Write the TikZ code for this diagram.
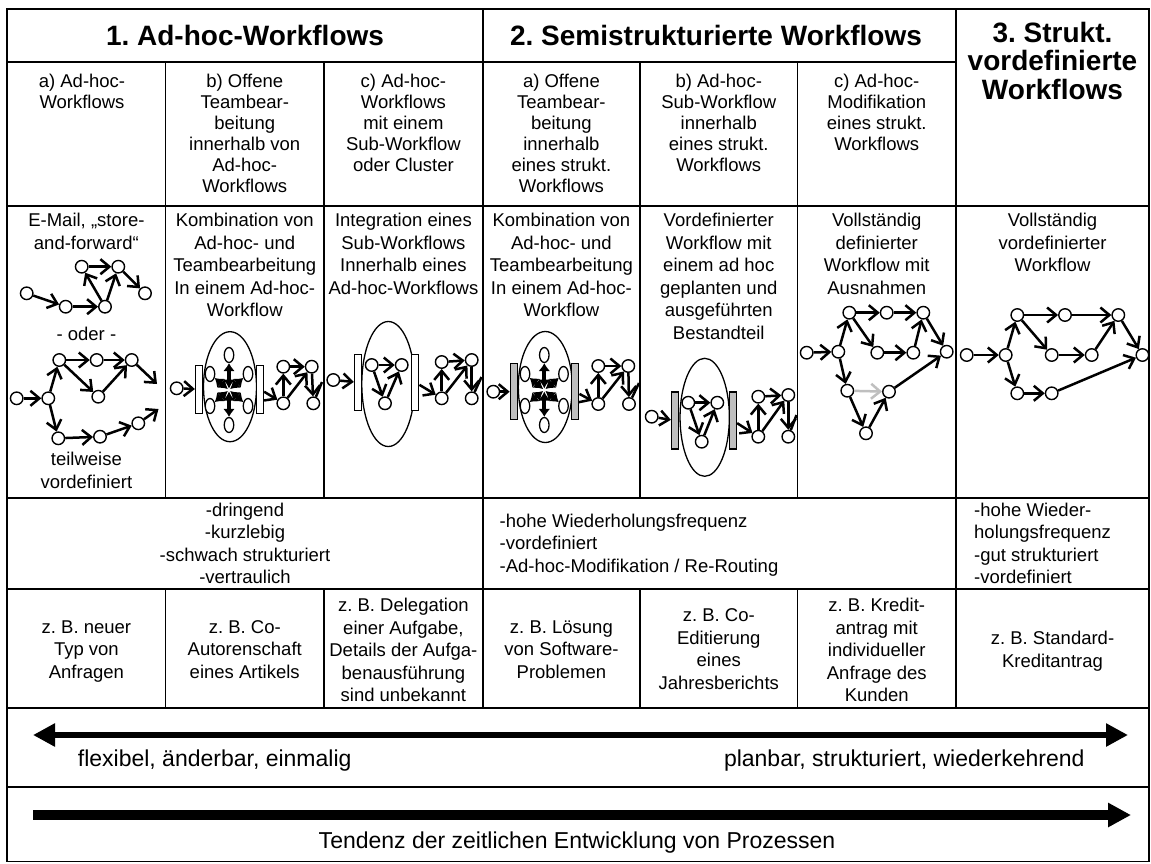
\documentclass[tikz,border=0pt]{standalone}
\usepackage{fontspec}
\setmainfont{Liberation Sans}
\usetikzlibrary{arrows.meta,shapes.geometric}
\definecolor{barg}{gray}{0.75}
\frenchspacing
\newcommand\tstr{\rule{0pt}{14.5pt}}
\newcommand\hstr{\rule{0pt}{21pt}}
\newcommand\bodyf{\fontsize{18.5}{22.5}\selectfont}
\newcommand\headf{\fontsize{18.5}{21}\selectfont}
\newcommand\chrf{\fontsize{18.5}{22.3}\selectfont}
\newcommand\titlef{\fontsize{28}{28.5}\selectfont\bfseries}
\newcommand\axisf{\fontsize{23}{26}\selectfont}
\begin{document}
\begin{tikzpicture}[x=1pt,y=-1pt,
  tline/.style={line width=1.8pt, line cap=rect},
  ttl/.style={inner sep=0pt, font=\titlef},
  hd/.style={anchor=north, align=center, inner sep=0pt, font=\headf, execute at begin node=\tstr},
  txt/.style={anchor=north, align=center, inner sep=0pt, font=\bodyf, execute at begin node=\tstr},
  chr/.style={txt, font=\chrf},
  lft/.style={chr, anchor=north west, align=left},
  axl/.style={inner sep=0pt, font=\axisf},
  wn/.style={circle, draw, fill=white, line width=1.4pt, minimum size=12.5pt, inner sep=0pt},
  fl/.style={line width=2.5pt, -{Straight Barb[length=9pt,width=15pt]}},
  gfl/.style={fl, draw=barg},
  dang/.style={line width=2.5pt},
  ov/.style={ellipse, draw, fill=white, line width=1.3pt, minimum width=9.5pt, minimum height=15pt, inner sep=0pt},
  subwf/.style={ellipse, draw, line width=1.3pt, inner sep=0pt},
  sbar/.style={rectangle, draw, fill=white, line width=1.3pt, minimum width=7pt, inner sep=0pt},
  gbar/.style={sbar, fill=barg},
  team/.style={line width=4pt, {Latex[length=9pt,width=12pt]}-{Latex[length=8pt,width=12pt]}, shorten <=1.5pt},
  bigarr/.style={line width=6.5pt, {Triangle[length=22pt,width=22pt]}-{Triangle[length=22pt,width=22pt]}},
  timearr/.style={line width=9.5pt, -{Triangle[length=23pt,width=23pt]}},
]
\useasboundingbox (0,0) rectangle (1151,863);

% ---------- headings ----------
\node[ttl, anchor=base] (ttl1) at (245,45.5) {1. Ad-hoc-Workflows};
\node[ttl, anchor=base] (ttl2) at (716,45.5) {2. Semistrukturierte Workflows};
\node[ttl, anchor=north, align=center, execute at begin node=\hstr] (ttl3) at (1052.5,22) {3. Strukt.\\vordefinierte\\Workflows};

\node[hd] (sub1) at (82,73.8) {a) Ad-hoc-\\Workflows};
\node[hd] (sub2) at (244.75,73.8) {b) Offene\\Teambear-\\beitung\\innerhalb von\\Ad-hoc-\\Workflows};
\node[hd] (sub3) at (403.4,73.8) {c) Ad-hoc-\\Workflows\\mit einem\\Sub-Workflow\\oder Cluster};
\node[hd] (sub4) at (561.4,73.8) {a) Offene\\Teambear-\\beitung\\innerhalb\\eines strukt.\\Workflows};
\node[hd] (sub5) at (718.75,73.8) {b) Ad-hoc-\\Sub-Workflow\\innerhalb\\eines strukt.\\Workflows};
\node[hd] (sub6) at (876.75,73.8) {c) Ad-hoc-\\Modifikation\\eines strukt.\\Workflows};

% ---------- descriptions ----------
\node[txt] (dsc1) at (86.4,213.1) {E-Mail, „store-\\and-forward“};
\node[txt] (dsc2) at (244.75,213.1) {Kombination von\\Ad-hoc- und\\Teambearbeitung\\In einem Ad-hoc-\\Workflow};
\node[txt] (dsc3) at (403.4,213.1) {Integration eines\\Sub-Workflows\\Innerhalb eines\\Ad-hoc-Workflows};
\node[txt] (dsc4) at (561.4,213.1) {Kombination von\\Ad-hoc- und\\Teambearbeitung\\In einem Ad-hoc-\\Workflow};
\node[txt] (dsc5) at (718.75,213.1) {Vordefinierter\\Workflow mit\\einem ad hoc\\geplanten und\\ausgeführten\\Bestandteil};
\node[txt] (dsc6) at (876.75,213.1) {Vollständig\\definierter\\Workflow mit\\Ausnahmen};
\node[txt] (dsc7) at (1052.5,213.1) {Vollständig\\vordefinierter\\Workflow};
\node[txt] (oder) at (86.4,326.1) {- oder -};
\node[txt] (teil) at (86.4,452.1) {teilweise\\vordefiniert};

% ---------- column 1: free ad-hoc flows ----------
\node[wn] (a1) at (81.7,266.7) {};
\node[wn] (a2) at (118.3,266.7) {};
\node[wn] (a3) at (26.7,293.3) {};
\node[wn] (a4) at (65.7,306.7) {};
\node[wn] (a5) at (105,306.7) {};
\node[wn] (a6) at (145,293.3) {};
\draw[fl] (a1) -- (a2);
\draw[fl] (a3) -- (a4);
\draw[fl] (a4) -- (a5);
\draw[fl] (a5) -- (a1);
\draw[fl] (a5) -- (a2);
\draw[fl] (a2) -- (a6);

\node[wn] (b1) at (16.7,398.3) {};
\node[wn] (b2) at (48.3,398.3) {};
\node[wn] (b3) at (59.3,360) {};
\node[wn] (b4) at (96.7,360) {};
\node[wn] (b5) at (131.7,360) {};
\node[wn] (b6) at (98.3,396.7) {};
\node[wn] (b7) at (58.3,438.3) {};
\node[wn] (b8) at (100,436.7) {};
\node[wn] (b9) at (138.3,423.3) {};
\coordinate (bx1) at (157,384);
\coordinate (bx2) at (158.5,409);
\draw[fl] (b1) -- (b2);
\draw[fl] (b2) -- (b3);
\draw[fl] (b2) -- (b7);
\draw[fl] (b3) -- (b4);
\draw[fl] (b4) -- (b5);
\draw[fl] (b3) -- (b6);
\draw[fl] (b6) -- (b5);
\draw[fl] (b5) -- (bx1);
\draw[fl] (b7) -- (b8);
\draw[fl] (b8) -- (b9);
\draw[fl] (b9) -- (bx2);

% ---------- column 2: team work inside an ad-hoc flow ----------
\node[subwf, minimum width=53pt, minimum height=110pt] (q-E) at (230,386.7) {};
\node[sbar, minimum height=48pt] (q-L) at (199,389.2) {};
\node[sbar, minimum height=48pt] (q-R) at (260,389.2) {};
\node[wn] (q-in) at (176.7,388.3) {};
\coordinate (q-c) at (229,390);
\node[ov] (q-o1) at (229,355) {};
\node[ov] (q-o2) at (229,425) {};
\node[ov] (q-o3) at (210,374) {};
\node[ov] (q-o4) at (248,374) {};
\node[ov] (q-o5) at (210,406) {};
\node[ov] (q-o6) at (248,406) {};
\foreach \k in {1,...,6} \draw[team] (q-c) -- (q-o\k);
\node[wn] (q-1) at (283.3,403.3) {};
\node[wn] (q-2) at (283.3,366.7) {};
\node[wn] (q-3) at (311.7,366.7) {};
\node[wn] (q-4) at (313.3,403.3) {};
\coordinate (q-x) at (322,382);
\draw[fl] (q-in) -- (q-L);
\draw[fl] (q-R) -- (q-1);
\draw[fl] (q-1) -- (q-2);
\draw[fl] (q-2) -- (q-3);
\draw[fl] (q-1) -- (q-3);
\draw[fl] (q-3) -- (q-4);
\draw[dang] (q-4) -- (q-x);

% ---------- column 3: sub-workflow inside an ad-hoc flow ----------
\node[subwf, minimum width=53pt, minimum height=125pt] (r-E) at (388.3,384) {};
\node[sbar, minimum height=56pt] (r-L) at (358,382.3) {};
\node[sbar, minimum height=56pt] (r-R) at (415.3,382.3) {};
\node[wn] (r-in) at (333.3,380) {};
\node[wn] (r-g1) at (371.7,365) {};
\node[wn] (r-g2) at (401.7,365) {};
\node[wn] (r-g3) at (385,403.3) {};
\draw[fl] (r-g1) -- (r-g2);
\draw[fl] (r-g1) -- (r-g3);
\draw[fl] (r-g3) -- (r-g2);
\node[wn] (r-1) at (441.7,398.3) {};
\node[wn] (r-2) at (441.7,362) {};
\node[wn] (r-3) at (471.7,360) {};
\node[wn] (r-4) at (471.7,398.3) {};
\coordinate (r-x) at (481.5,377);
\draw[fl] (r-in) -- (r-L);
\draw[fl] (r-R) -- (r-1);
\draw[fl] (r-1) -- (r-2);
\draw[fl] (r-2) -- (r-3);
\draw[fl] (r-1) -- (r-3);
\draw[fl] (r-3) -- (r-4);
\draw[dang] (r-4) -- (r-x);

% ---------- column 4: team work inside a structured flow ----------
\node[subwf, minimum width=54pt, minimum height=111pt] (s-E) at (545.3,387) {};
\node[gbar, minimum height=56pt] (s-L) at (513.8,391.7) {};
\node[gbar, minimum height=56pt] (s-R) at (575.3,391.7) {};
\node[wn] (s-in) at (493.3,391.7) {};
\coordinate (s-c) at (544.3,390);
\node[ov] (s-o1) at (544.3,355) {};
\node[ov] (s-o2) at (544.3,425) {};
\node[ov] (s-o3) at (525,374) {};
\node[ov] (s-o4) at (563.5,374) {};
\node[ov] (s-o5) at (525,406) {};
\node[ov] (s-o6) at (563.5,406) {};
\foreach \k in {1,...,6} \draw[team] (s-c) -- (s-o\k);
\node[wn] (s-1) at (598.3,404) {};
\node[wn] (s-2) at (598.3,366) {};
\node[wn] (s-3) at (628.3,366) {};
\node[wn] (s-4) at (629,404) {};
\coordinate (s-x) at (639,383);
\draw[fl] (s-in) -- (s-L);
\draw[fl] (s-R) -- (s-1);
\draw[fl] (s-1) -- (s-2);
\draw[fl] (s-2) -- (s-3);
\draw[fl] (s-1) -- (s-3);
\draw[fl] (s-3) -- (s-4);
\draw[dang] (s-4) -- (s-x);

% ---------- column 5: ad-hoc sub-workflow inside a structured flow ----------
\node[subwf, minimum width=49.3pt, minimum height=118pt] (u-E) at (704.7,417.3) {};
\node[gbar, minimum height=57pt] (u-L) at (675,420.5) {};
\node[gbar, minimum height=57pt] (u-R) at (733,420.5) {};
\node[wn] (u-in) at (651.7,416.7) {};
\node[wn] (u-g1) at (688.3,402.7) {};
\node[wn] (u-g2) at (717.3,402.7) {};
\node[wn] (u-g3) at (701.7,441.7) {};
\draw[fl] (u-g1) -- (u-g2);
\draw[fl] (u-g1) -- (u-g3);
\draw[fl] (u-g3) -- (u-g2);
\node[wn] (u-1) at (758.3,436.7) {};
\node[wn] (u-2) at (758.3,396.7) {};
\node[wn] (u-3) at (788.3,395) {};
\node[wn] (u-4) at (788.3,436.7) {};
\coordinate (u-x) at (796.5,415);
\draw[fl] (u-in) -- (u-L);
\draw[fl] (u-R) -- (u-1);
\draw[fl] (u-1) -- (u-2);
\draw[fl] (u-2) -- (u-3);
\draw[fl] (u-1) -- (u-3);
\draw[fl] (u-3) -- (u-4);
\draw[dang] (u-4) -- (u-x);

% ---------- column 6: defined flow with exceptions ----------
\node[wn] (v0) at (806.7,352.7) {};
\node[wn] (v1) at (838.3,351.7) {};
\node[wn] (v2) at (849.3,312.7) {};
\node[wn] (v3) at (886.7,312.7) {};
\node[wn] (v4) at (923.3,312.7) {};
\node[wn] (v5) at (877.3,352.7) {};
\node[wn] (v6) at (913.3,352.7) {};
\node[wn] (v7) at (946.7,351.7) {};
\node[wn] (v8) at (847.3,390.7) {};
\node[wn] (v9) at (889,391.7) {};
\node[wn] (v10) at (866,433.3) {};
\draw[fl] (v0) -- (v1);
\draw[fl] (v1) -- (v2);
\draw[fl] (v1) -- (v8);
\draw[fl] (v2) -- (v3);
\draw[fl] (v3) -- (v4);
\draw[fl] (v2) -- (v5);
\draw[fl] (v5) -- (v6);
\draw[fl] (v6) -- (v4);
\draw[fl] (v4) -- (v7);
\draw[gfl] (v8) -- (v9);
\draw[fl] (v8) -- (v10);
\draw[fl] (v10) -- (v9);
\draw[fl] (v9) -- (v7);

% ---------- column 7: fully predefined flow ----------
\node[wn] (w0) at (966.7,355) {};
\node[wn] (w1) at (1005.7,355) {};
\node[wn] (w2) at (1017.3,315) {};
\node[wn] (w3) at (1065,315) {};
\node[wn] (w4) at (1118.3,315) {};
\node[wn] (w5) at (1051.7,355) {};
\node[wn] (w6) at (1091.7,355) {};
\node[wn] (w7) at (1142.4,355) {};
\node[wn] (w8) at (1017.3,393.3) {};
\node[wn] (w9) at (1051.7,393.3) {};
\draw[fl] (w0) -- (w1);
\draw[fl] (w1) -- (w2);
\draw[fl] (w1) -- (w8);
\draw[fl] (w2) -- (w3);
\draw[fl] (w3) -- (w4);
\draw[fl] (w2) -- (w5);
\draw[fl] (w5) -- (w6);
\draw[fl] (w6) -- (w4);
\draw[fl] (w4) -- (w7);
\draw[fl] (w8) -- (w9);
\draw[fl] (w9) -- (w7);

% ---------- characteristics ----------
\node[chr] (chr1) at (245,502.8) {-dringend\\-kurzlebig\\-schwach strukturiert\\-vertraulich};
\node[lft] (chr2) at (499.5,513.8) {-hohe Wiederholungsfrequenz\\-vordefiniert\\-Ad-hoc-Modifikation / Re-Routing};
\node[lft] (chr3) at (974,502.8) {-hohe Wieder-\\holungsfrequenz\\-gut strukturiert\\-vordefiniert};

% ---------- examples ----------
\node[txt] (ex1) at (86.4,620.1) {z. B. neuer\\Typ von\\Anfragen};
\node[txt] (ex2) at (244.75,620.1) {z. B. Co-\\Autorenschaft\\eines Artikels};
\node[txt] (ex3) at (403.4,598.1) {z. B. Delegation\\einer Aufgabe,\\Details der Aufga-\\benausführung\\sind unbekannt};
\node[txt] (ex4) at (561.4,620.1) {z. B. Lösung\\von Software-\\Problemen};
\node[txt] (ex5) at (718.75,608.8) {z. B. Co-\\Editierung\\eines\\Jahresberichts};
\node[txt] (ex6) at (876.75,598.1) {z. B. Kredit-\\antrag mit\\individueller\\Anfrage des\\Kunden};
\node[txt] (ex7) at (1052.5,631.1) {z. B. Standard-\\Kreditantrag};

% ---------- axes ----------
\coordinate (lArr) at (33,735);
\coordinate (rArr) at (1128,735);
\draw[bigarr] (lArr) -- (rArr);
\node[axl, anchor=base west] (flex) at (77.7,766.5) {flexibel, änderbar, einmalig};
\node[axl, anchor=base west] (plan) at (723.8,766.5) {planbar, strukturiert, wiederkehrend};
\coordinate (tStart) at (33,815);
\coordinate (tEnd) at (1131,815);
\draw[timearr] (tStart) -- (tEnd);
\node[axl, anchor=base] (tend) at (577,848) {Tendenz der zeitlichen Entwicklung von Prozessen};

% ---------- table rules ----------
\draw[tline] (7.3,9.3) rectangle (1149,861.5);
\draw[tline] (7.3,61.7) -- (956,61.7);
\foreach \yy in {206,497.7,589.3,708.3,787.3} \draw[tline] (7.3,\yy) -- (1149,\yy);
\foreach \xx in {482.8,956} \draw[tline] (\xx,9.3) -- (\xx,708.3);
\foreach \xx in {165.5,324,640,797.5} {
  \draw[tline] (\xx,61.7) -- (\xx,497.7);
  \draw[tline] (\xx,589.3) -- (\xx,708.3);
}
\end{tikzpicture}
\end{document}
